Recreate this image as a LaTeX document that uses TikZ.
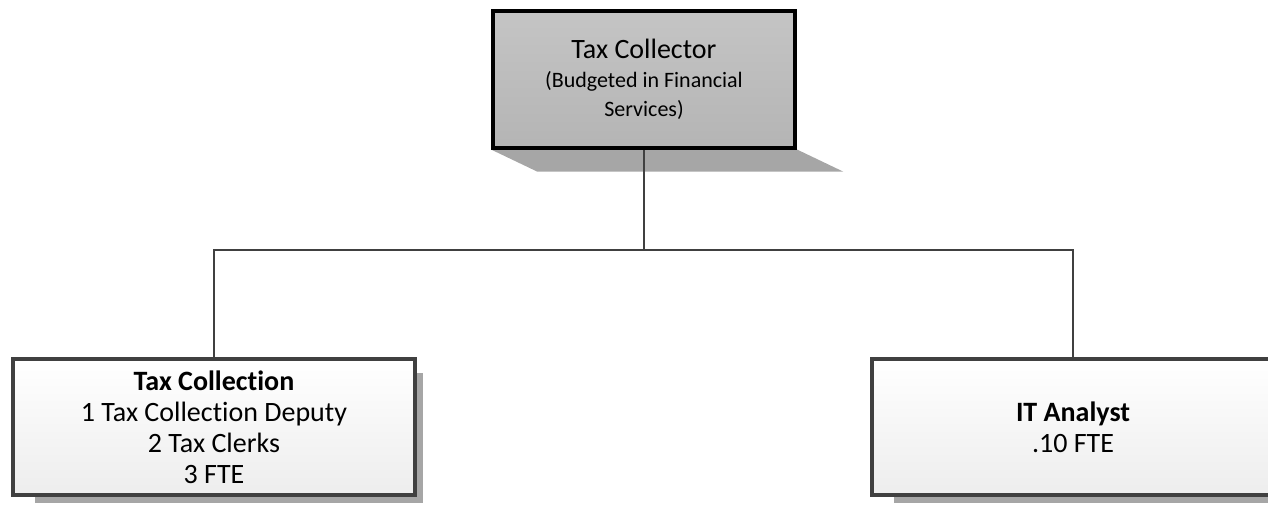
\documentclass[tikz,border=0pt]{standalone}
\usepackage{fontspec}
\setmainfont{Carlito}[Ligatures={NoCommon}]
\usetikzlibrary{backgrounds}
\definecolor{boxline}{HTML}{404040}
\definecolor{shadowgray}{HTML}{A6A6A6}
\definecolor{headfill}{HTML}{BEBEBE}
\tikzset{
  headbox/.style={draw=black, line width=4pt, rectangle, align=center,
    top color=headfill!90!white, bottom color=headfill!95!black,
    minimum width=302pt, minimum height=137pt, inner sep=0pt,
    font=\fontsize{28}{29}\selectfont},
  unitbox/.style={draw=boxline, line width=4pt, rectangle, align=center,
    top color=white, bottom color=black!7,
    minimum width=402pt, minimum height=136pt, inner sep=0pt,
    font=\fontsize{28}{31}\selectfont},
  link/.style={draw=boxline, line width=2pt},
  shade box/.style={fill=shadowgray, draw=none}
}
\begin{document}
\begin{tikzpicture}[x=1pt,y=-1pt]
\useasboundingbox (0,0) rectangle (1268,504);
\node[headbox] (head) at (644,79) {Tax Collector\\{\fontsize{22}{29}\selectfont (Budgeted in Financial}\\{\fontsize{22}{29}\selectfont Services)}};
\node[unitbox] (taxcol) at (214,427) {\textbf{Tax Collection}\\1 Tax Collection Deputy\\2 Tax Clerks\\3 FTE};
\node[unitbox] (itan) at (1073,427) {\textbf{IT Analyst}\\.10 FTE};
\coordinate (J) at (644,250);
\begin{scope}[on background layer]
  \fill[shade box] (head.south west) -- ([shift={(46,22)}]head.south west) -- ([shift={(46,22)}]head.south east) -- (head.south east) -- cycle;
  \fill[shade box] ([shift={(24,16)}]taxcol.north west) rectangle ([shift={(6,6)}]taxcol.south east);
  \fill[shade box] ([shift={(24,16)}]itan.north west) rectangle ([shift={(6,6)}]itan.south east);
  \draw[link] (head.south) -- (J);
  \draw[link] (J) -| (taxcol.north);
  \draw[link] (J) -| (itan.north);
\end{scope}
\end{tikzpicture}
\end{document}
